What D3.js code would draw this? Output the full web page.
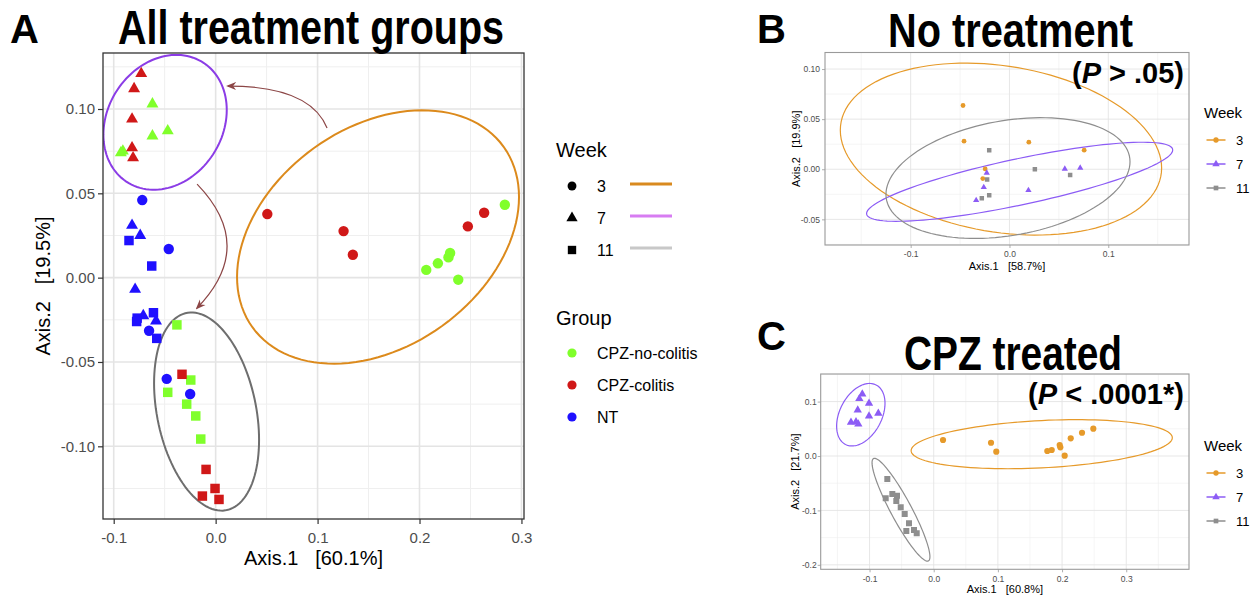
<!DOCTYPE html>
<html>
<head>
<meta charset="utf-8">
<script src="https://cdn.jsdelivr.net/npm/d3@7"></script>
<style>
  body { margin: 0; background: #fff; }
  svg { display: block; }
  text { font-family: "Liberation Sans", Arial, Helvetica, sans-serif; }
</style>
</head>
<body>
<svg id="fig" width="1258" height="595"></svg>
<script>
// ---------- data (x = Axis.1, y = Axis.2) ----------

const weeks = [3, 7, 11];
const groupNames = ['CPZ-no-colitis', 'CPZ-colitis', 'NT'];

// panel A : all treatment groups
const noColitisA = [
  { week: 7, x: -0.062, y: 0.103 }, { week: 7, x: -0.047, y: 0.087 }, { week: 7, x: -0.062, y: 0.084 },
  { week: 7, x: -0.091, y: 0.075 }, { week: 7, x: -0.093, y: 0.074 },
  { week: 3, x: 0.2837, y: 0.0432 }, { week: 3, x: 0.230, y: 0.0146 }, { week: 3, x: 0.2284, y: 0.012 },
  { week: 3, x: 0.218, y: 0.0085 }, { week: 3, x: 0.2066, y: 0.0046 }, { week: 3, x: 0.238, y: -0.0012 },
  { week: 11, x: -0.038, y: -0.028 }, { week: 11, x: -0.0244, y: -0.0607 }, { week: 11, x: -0.047, y: -0.068 },
  { week: 11, x: -0.0284, y: -0.075 }, { week: 11, x: -0.0195, y: -0.082 }, { week: 11, x: -0.0146, y: -0.0957 }
];
const colitisA = [
  { week: 7, x: -0.073, y: 0.121 }, { week: 7, x: -0.080, y: 0.112 }, { week: 7, x: -0.082, y: 0.094 },
  { week: 7, x: -0.082, y: 0.077 }, { week: 7, x: -0.081, y: 0.071 },
  { week: 3, x: 0.0507, y: 0.0377 }, { week: 3, x: 0.1255, y: 0.0276 }, { week: 3, x: 0.1346, y: 0.0136 },
  { week: 3, x: 0.2634, y: 0.0385 }, { week: 3, x: 0.2474, y: 0.0304 },
  { week: 11, x: -0.033, y: -0.0573 }, { week: 11, x: -0.0094, y: -0.1137 }, { week: 11, x: -0.0006, y: -0.125 },
  { week: 11, x: -0.013, y: -0.1295 }, { week: 11, x: 0.0033, y: -0.1315 }
];
const ntA = [
  { week: 3, x: -0.072, y: 0.046 }, { week: 3, x: -0.046, y: 0.017 }, { week: 3, x: -0.0653, y: -0.0315 },
  { week: 3, x: -0.048, y: -0.060 }, { week: 3, x: -0.025, y: -0.069 },
  { week: 7, x: -0.082, y: 0.031 }, { week: 7, x: -0.074, y: 0.025 }, { week: 7, x: -0.079, y: -0.0069 },
  { week: 7, x: -0.071, y: -0.0226 }, { week: 7, x: -0.0585, y: -0.0257 },
  { week: 11, x: -0.085, y: 0.022 }, { week: 11, x: -0.0627, y: 0.0069 }, { week: 11, x: -0.077, y: -0.024 },
  { week: 11, x: -0.0775, y: -0.026 }, { week: 11, x: -0.061, y: -0.0208 }, { week: 11, x: -0.0578, y: -0.036 }
];
// ellipse = centre, right-most point, half vertical chord through centre
const ellipsesA = [
  { week: 7, cx: -0.0496, cy: 0.0921, xr: 0.0109, yr: 0.0994, h: 0.0393 },
  { week: 3, cx: 0.1593, cy: 0.0241, xr: 0.2976, yr: 0.0478, h: 0.0713 },
  { week: 11, cx: -0.0089, cy: -0.0794, xr: 0.0426, yr: -0.0962, h: 0.0563 }
];
const arrowsA = [
  { from: [0.1093, 0.0887], via: [0.0926, 0.1136], to: [0.0122, 0.1136] },
  { from: [-0.0182, 0.0555], via: [0.0406, 0.0187], to: [-0.0182, -0.018] }
];

// panel B : no treatment
const pointsB = [
  { week: 3, x: -0.047, y: 0.0636 }, { week: 3, x: -0.046, y: 0.028 }, { week: 3, x: 0.0196, y: 0.027 },
  { week: 3, x: 0.0756, y: 0.019 }, { week: 3, x: -0.0246, y: 0.0003 }, { week: 3, x: -0.027, y: -0.0093 },
  { week: 7, x: -0.023, y: -0.0037 }, { week: 7, x: -0.026, y: -0.018 }, { week: 7, x: -0.0337, y: -0.031 },
  { week: 7, x: 0.0192, y: -0.021 }, { week: 7, x: 0.056, y: 0.0003 }, { week: 7, x: 0.0716, y: 0.0013 },
  { week: 11, x: -0.0205, y: 0.019 }, { week: 11, x: -0.0226, y: -0.0103 }, { week: 11, x: -0.028, y: -0.029 },
  { week: 11, x: -0.0205, y: -0.026 }, { week: 11, x: 0.0257, y: 0.0 }, { week: 11, x: 0.0614, y: -0.0057 }
];
const ellipsesB = [
  { week: 3, cx: -0.0086, cy: 0.0201, xr: 0.154, yr: 0.0012, h: 0.0837 },
  { week: 7, cx: 0.0103, cy: -0.0125, xr: 0.1652, yr: 0.0192, h: 0.0235 },
  { week: 11, cx: -0.0015, cy: -0.0088, xr: 0.122, yr: 0.0075, h: 0.058 }
];

// panel C : CPZ treated
const pointsC = [
  { week: 7, x: -0.1113, y: 0.1139 }, { week: 7, x: -0.1159, y: 0.1053 }, { week: 7, x: -0.1008, y: 0.0968 },
  { week: 7, x: -0.1184, y: 0.0845 }, { week: 7, x: -0.0863, y: 0.0785 }, { week: 7, x: -0.1008, y: 0.0735 },
  { week: 7, x: -0.1289, y: 0.0619 }, { week: 7, x: -0.1211, y: 0.063 }, { week: 7, x: -0.1175, y: 0.0588 },
  { week: 3, x: 0.0145, y: 0.0294 }, { week: 3, x: 0.0893, y: 0.0244 }, { week: 3, x: 0.0975, y: 0.0079 },
  { week: 3, x: 0.177, y: 0.0092 }, { week: 3, x: 0.1839, y: 0.011 }, { week: 3, x: 0.1963, y: 0.0202 },
  { week: 3, x: 0.1973, y: 0.016 }, { week: 3, x: 0.2041, y: 0.0006 }, { week: 3, x: 0.2135, y: 0.0325 },
  { week: 3, x: 0.2311, y: 0.0428 }, { week: 3, x: 0.2487, y: 0.0502 },
  { week: 11, x: -0.0723, y: -0.0423 }, { week: 11, x: -0.0645, y: -0.0698 }, { week: 11, x: -0.0748, y: -0.0777 },
  { week: 11, x: -0.0572, y: -0.0729 }, { week: 11, x: -0.0583, y: -0.0827 }, { week: 11, x: -0.0514, y: -0.0943 },
  { week: 11, x: -0.0452, y: -0.1066 }, { week: 11, x: -0.0385, y: -0.1237 }, { week: 11, x: -0.0427, y: -0.1378 },
  { week: 11, x: -0.0307, y: -0.136 }, { week: 11, x: -0.0265, y: -0.1421 }
];
const ellipsesC = [
  { week: 7, cx: -0.1136, cy: 0.0759, xr: -0.0759, yr: 0.0968, h: 0.0535 },
  { week: 3, cx: 0.1683, cy: 0.0217, xr: 0.3718, yr: 0.0336, h: 0.0435 },
  { week: 11, cx: -0.051, cy: -0.0987, xr: -0.0059, yr: -0.185, h: 0.0384 }
];

// tick values
const ticksAx = [-0.1, 0, 0.1, 0.2, 0.3], minorAx = [-0.05, 0.05, 0.15, 0.25];
const ticksAy = [-0.10, -0.05, 0, 0.05, 0.10], minorAy = [-0.125, -0.075, -0.025, 0.025, 0.075, 0.125];
const ticksBx = [-0.1, 0, 0.1], minorBx = [-0.15, -0.05, 0.05, 0.15];
const ticksBy = [-0.05, 0, 0.05, 0.10], minorBy = [-0.075, -0.025, 0.025, 0.075];
const ticksCx = [-0.1, 0, 0.1, 0.2, 0.3], minorCx = [-0.15, -0.05, 0.05, 0.15, 0.25, 0.35];
const ticksCy = [-0.2, -0.1, 0, 0.1], minorCy = [-0.15, -0.05, 0.05, 0.15];

// ---------- styles ----------
const FONT = '"Liberation Sans", Arial, Helvetica, sans-serif';
const TITLE_FONT = '"Liberation Sans Narrow", "DejaVu Sans Condensed", "Liberation Sans", Arial, sans-serif';
const groupColor = { 'CPZ-no-colitis': '#80ff2b', 'CPZ-colitis': '#d01818', 'NT': '#1f10ff' };
const shapeOf = { 3: d3.symbolCircle, 7: d3.symbolTriangle, 11: d3.symbolSquare };
const ellipseColorA = { 3: '#dc8a1c', 7: '#8b3ce6', 11: '#6e6e6e' };
const legendLineA = { 3: '#d98a1f', 7: '#d77cf2', 11: '#c8c8c8' };
const weekColor = { 3: '#e69a2a', 7: '#8c5cf5', 11: '#8e8e8e' };
const arrowColor = '#8c4646';

const svg = d3.select('#fig');
const defs = svg.append('defs');

defs.append('marker')
  .attr('id', 'head')
  .attr('viewBox', '0 0 10 10')
  .attr('refX', 8).attr('refY', 5)
  .attr('markerWidth', 10).attr('markerHeight', 10)
  .attr('markerUnits', 'userSpaceOnUse')
  .attr('orient', 'auto')
  .append('path')
  .attr('d', 'M0,1 L10,5 L0,9 L3,5 Z')
  .attr('fill', arrowColor);

// ellipse through centre + cos t * (rightmost - centre) + sin t * (0, h)
function ellipsePath(e, x, y) {
  const pts = d3.range(0, 360, 3).map(a => {
    const t = a * Math.PI / 180;
    return [e.cx + Math.cos(t) * (e.xr - e.cx),
            e.cy + Math.cos(t) * (e.yr - e.cy) + Math.sin(t) * e.h];
  });
  return d3.line().x(d => x(d[0])).y(d => y(d[1])).curve(d3.curveLinearClosed)(pts);
}

// draws grid, axes, border. returns scales + layer for the marks
function panel(o) {
  const x = d3.scaleLinear().domain(o.xDomain).range([o.left, o.right]);
  const y = d3.scaleLinear().domain(o.yDomain).range([o.bottom, o.top]);
  const g = svg.append('g');

  const grid = g.append('g');
  grid.selectAll('.mx').data(o.xMinor).join('line')
    .attr('x1', d => x(d)).attr('x2', d => x(d)).attr('y1', o.top).attr('y2', o.bottom)
    .attr('stroke', '#efefef').attr('stroke-width', o.minorW);
  grid.selectAll('.my').data(o.yMinor).join('line')
    .attr('y1', d => y(d)).attr('y2', d => y(d)).attr('x1', o.left).attr('x2', o.right)
    .attr('stroke', '#efefef').attr('stroke-width', o.minorW);
  grid.selectAll('.Mx').data(o.xTicks).join('line')
    .attr('x1', d => x(d)).attr('x2', d => x(d)).attr('y1', o.top).attr('y2', o.bottom)
    .attr('stroke', '#e4e4e4').attr('stroke-width', o.majorW);
  grid.selectAll('.My').data(o.yTicks).join('line')
    .attr('y1', d => y(d)).attr('y2', d => y(d)).attr('x1', o.left).attr('x2', o.right)
    .attr('stroke', '#e4e4e4').attr('stroke-width', o.majorW);

  const ax = g.append('g')
    .attr('transform', `translate(0,${o.bottom})`)
    .attr('font-family', FONT)
    .call(d3.axisBottom(x).tickValues(o.xTicks).tickFormat(o.xFmt)
      .tickSize(o.tickLen).tickPadding(o.xPad));
  const ay = g.append('g')
    .attr('transform', `translate(${o.left},0)`)
    .attr('font-family', FONT)
    .call(d3.axisLeft(y).tickValues(o.yTicks).tickFormat(o.yFmt)
      .tickSize(o.tickLen).tickPadding(o.yPad));
  [ax, ay].forEach(a => {
    a.select('.domain').remove();
    a.selectAll('line').attr('stroke', o.tickColor).attr('stroke-width', o.tickW);
    a.selectAll('text').attr('fill', '#4d4d4d').attr('font-size', o.tickFont);
  });

  const clipId = 'clip' + o.name;
  defs.append('clipPath').attr('id', clipId)
    .append('rect')
    .attr('x', o.left).attr('y', o.top)
    .attr('width', o.right - o.left).attr('height', o.bottom - o.top);
  const marks = g.append('g').attr('clip-path', `url(#${clipId})`);

  const border = g.append('rect')
    .attr('x', o.left).attr('y', o.top)
    .attr('width', o.right - o.left).attr('height', o.bottom - o.top)
    .attr('fill', 'none').attr('stroke', o.borderColor).attr('stroke-width', o.borderW);

  // axis titles
  g.append('text')
    .attr('x', (o.left + o.right) / 2).attr('y', o.xTitleY)
    .attr('text-anchor', 'middle').attr('font-size', o.titleFont)
    .style('white-space', 'pre')
    .text(o.xTitle);
  g.append('text')
    .attr('transform', `translate(${o.yTitleX},${(o.top + o.bottom) / 2}) rotate(-90)`)
    .attr('text-anchor', 'middle').attr('font-size', o.titleFont)
    .style('white-space', 'pre')
    .text(o.yTitle);

  return { x, y, g, marks };
}

const f1 = d => d.toFixed(1);
const f2 = d => d.toFixed(2);

// ---------- panel A ----------
const A = panel({
  name: 'A', left: 103, right: 524, top: 53, bottom: 519,
  xDomain: [-0.1105, 0.3025], yDomain: [-0.1431, 0.1332],
  xTicks: ticksAx, xMinor: minorAx, yTicks: ticksAy, yMinor: minorAy,
  xFmt: f1, yFmt: f2, tickLen: 5, xPad: 8, yPad: 3, tickFont: 15,
  tickColor: '#333', tickW: 1.2, majorW: 1.6, minorW: 1.0,
  borderColor: '#333', borderW: 1.3,
  xTitle: 'Axis.1   [60.1%]', yTitle: 'Axis.2   [19.5%]',
  xTitleY: 565, yTitleX: 50, titleFont: 20
});

A.marks.selectAll('.ell').data(ellipsesA).join('path')
  .attr('d', e => ellipsePath(e, A.x, A.y))
  .attr('fill', 'none')
  .attr('stroke', e => ellipseColorA[e.week])
  .attr('stroke-width', 2);

const allA = [
  ...noColitisA.map(d => ({ ...d, group: 'CPZ-no-colitis' })),
  ...colitisA.map(d => ({ ...d, group: 'CPZ-colitis' })),
  ...ntA.map(d => ({ ...d, group: 'NT' }))
];
const sizeA = { 3: 85, 7: 62, 11: 90 };
A.marks.selectAll('.pt').data(allA).join('path')
  .attr('transform', d => `translate(${A.x(d.x)},${A.y(d.y)})`)
  .attr('d', d => d3.symbol().type(shapeOf[d.week]).size(sizeA[d.week])())
  .attr('fill', d => groupColor[d.group]);

A.g.selectAll('.arrow').data(arrowsA).join('path')
  .attr('d', a => {
    const p = d3.path();
    p.moveTo(A.x(a.from[0]), A.y(a.from[1]));
    p.quadraticCurveTo(A.x(a.via[0]), A.y(a.via[1]), A.x(a.to[0]), A.y(a.to[1]));
    return p.toString();
  })
  .attr('fill', 'none')
  .attr('stroke', arrowColor)
  .attr('stroke-width', 1.2)
  .attr('marker-end', 'url(#head)');

// legend A
const legA = svg.append('g').attr('font-family', FONT);
legA.append('text').attr('x', 556).attr('y', 157).attr('font-size', 20).text('Week');
const wRows = legA.selectAll('.w').data(weeks).join('g')
  .attr('transform', (d, i) => `translate(0,${186 + i * 32})`);
wRows.append('path')
  .attr('transform', 'translate(572,0)')
  .attr('d', d => d3.symbol().type(shapeOf[d]).size({ 3: 62, 7: 55, 11: 70 }[d])())
  .attr('fill', '#000');
wRows.append('text').attr('x', 597).attr('dy', '0.35em').attr('font-size', 16).text(d => d);
wRows.append('line')
  .attr('x1', 630).attr('x2', 672).attr('y1', -2).attr('y2', -2)
  .attr('stroke', d => legendLineA[d]).attr('stroke-width', 3);

legA.append('text').attr('x', 556).attr('y', 325).attr('font-size', 20).text('Group');
const gRows = legA.selectAll('.gr').data(groupNames).join('g')
  .attr('transform', (d, i) => `translate(0,${353 + i * 32})`);
gRows.append('circle').attr('cx', 572).attr('r', 4.6).attr('fill', d => groupColor[d]);
gRows.append('text').attr('x', 597).attr('dy', '0.35em').attr('font-size', 16).text(d => d);

// ---------- panels B and C ----------
function smallPanel(o, pts, ells, sizes) {
  const P = panel(Object.assign({
    tickLen: 3, tickFont: 8.5, tickColor: '#999', tickW: 0.8,
    majorW: 0.9, minorW: 0.6, borderColor: '#9a9a9a', borderW: 1.1,
    titleFont: 11
  }, o));
  P.marks.selectAll('.ell').data(ells).join('path')
    .attr('d', e => ellipsePath(e, P.x, P.y))
    .attr('fill', 'none')
    .attr('stroke', e => weekColor[e.week])
    .attr('stroke-width', 1.2);
  P.marks.selectAll('.pt').data(pts).join('path')
    .attr('transform', d => `translate(${P.x(d.x)},${P.y(d.y)})`)
    .attr('d', d => d3.symbol().type(shapeOf[d.week]).size(sizes[d.week])())
    .attr('fill', d => weekColor[d.week]);
  return P;
}

smallPanel({
  name: 'B', left: 825, right: 1189, top: 52.5, bottom: 245,
  xDomain: [-0.1867, 0.1817], yDomain: [-0.0756, 0.1165],
  xTicks: ticksBx, xMinor: minorBx, yTicks: ticksBy, yMinor: minorBy,
  xFmt: f1, yFmt: f2, xPad: 3, yPad: 2,
  xTitle: 'Axis.1   [58.7%]', yTitle: 'Axis.2   [19.9%]',
  xTitleY: 270, yTitleX: 800
}, pointsB, ellipsesB, { 3: 18, 7: 17, 11: 20 });

smallPanel({
  name: 'C', left: 820.7, right: 1189, top: 374, bottom: 569.3,
  xDomain: [-0.1761, 0.3978], yDomain: [-0.2082, 0.1507],
  xTicks: ticksCx, xMinor: minorCx, yTicks: ticksCy, yMinor: minorCy,
  xFmt: f1, yFmt: f1, xPad: 4, yPad: 1,
  xTitle: 'Axis.1   [60.8%]', yTitle: 'Axis.2   [21.7%]',
  xTitleY: 592.5, yTitleX: 799
}, pointsC, ellipsesC, { 3: 30, 7: 30, 11: 36 });

// small week legends
function weekLegend(top) {
  const lg = svg.append('g').attr('font-family', FONT);
  lg.append('text').attr('x', 1204).attr('y', top).attr('font-size', 15).text('Week');
  const rows = lg.selectAll('.r').data(weeks).join('g')
    .attr('transform', (d, i) => `translate(0,${top + 22 + i * 24})`);
  rows.append('line').attr('x1', 1206.5).attr('x2', 1225.5)
    .attr('stroke', d => weekColor[d]).attr('stroke-width', 1.5);
  rows.append('path')
    .attr('transform', 'translate(1216,0)')
    .attr('d', d => d3.symbol().type(shapeOf[d]).size({ 3: 22, 7: 24, 11: 22 }[d])())
    .attr('fill', d => weekColor[d]);
  rows.append('text').attr('x', 1236).attr('dy', '0.35em').attr('font-size', 13).text(d => d);
}
weekLegend(118);
weekLegend(451);

// ---------- titles ----------
function bigTitle(x, y, str, len) {
  svg.append('text')
    .attr('x', x).attr('y', y)
    .attr('font-family', TITLE_FONT).attr('font-weight', 'bold')
    .attr('font-size', 48)
    .attr('textLength', len).attr('lengthAdjust', 'spacingAndGlyphs')
    .text(str);
}
function letter(x, y, str) {
  svg.append('text')
    .attr('x', x).attr('y', y)
    .attr('font-family', FONT).attr('font-weight', 'bold')
    .attr('font-size', 40)
    .text(str);
}
function pValue(x, y, before, after, len) {
  const t = svg.append('text')
    .attr('x', x).attr('y', y)
    .attr('font-family', TITLE_FONT).attr('font-weight', 'bold')
    .attr('font-size', 30)
    .attr('textLength', len).attr('lengthAdjust', 'spacingAndGlyphs')
    .style('white-space', 'pre');
  t.append('tspan').text(before);
  t.append('tspan').attr('font-style', 'italic').text('P');
  t.append('tspan').text(after);
}

letter(10, 43, 'A');
bigTitle(118, 44, 'All treatment groups', 386);
letter(757, 43, 'B');
bigTitle(888, 47, 'No treatment', 245);
pValue(1072, 83, '(', ' > .05)', 112);
letter(757, 350, 'C');
bigTitle(904, 370, 'CPZ treated', 218);
pValue(1028, 404, '(', ' < .0001*)', 156);
</script>
</body>
</html>
